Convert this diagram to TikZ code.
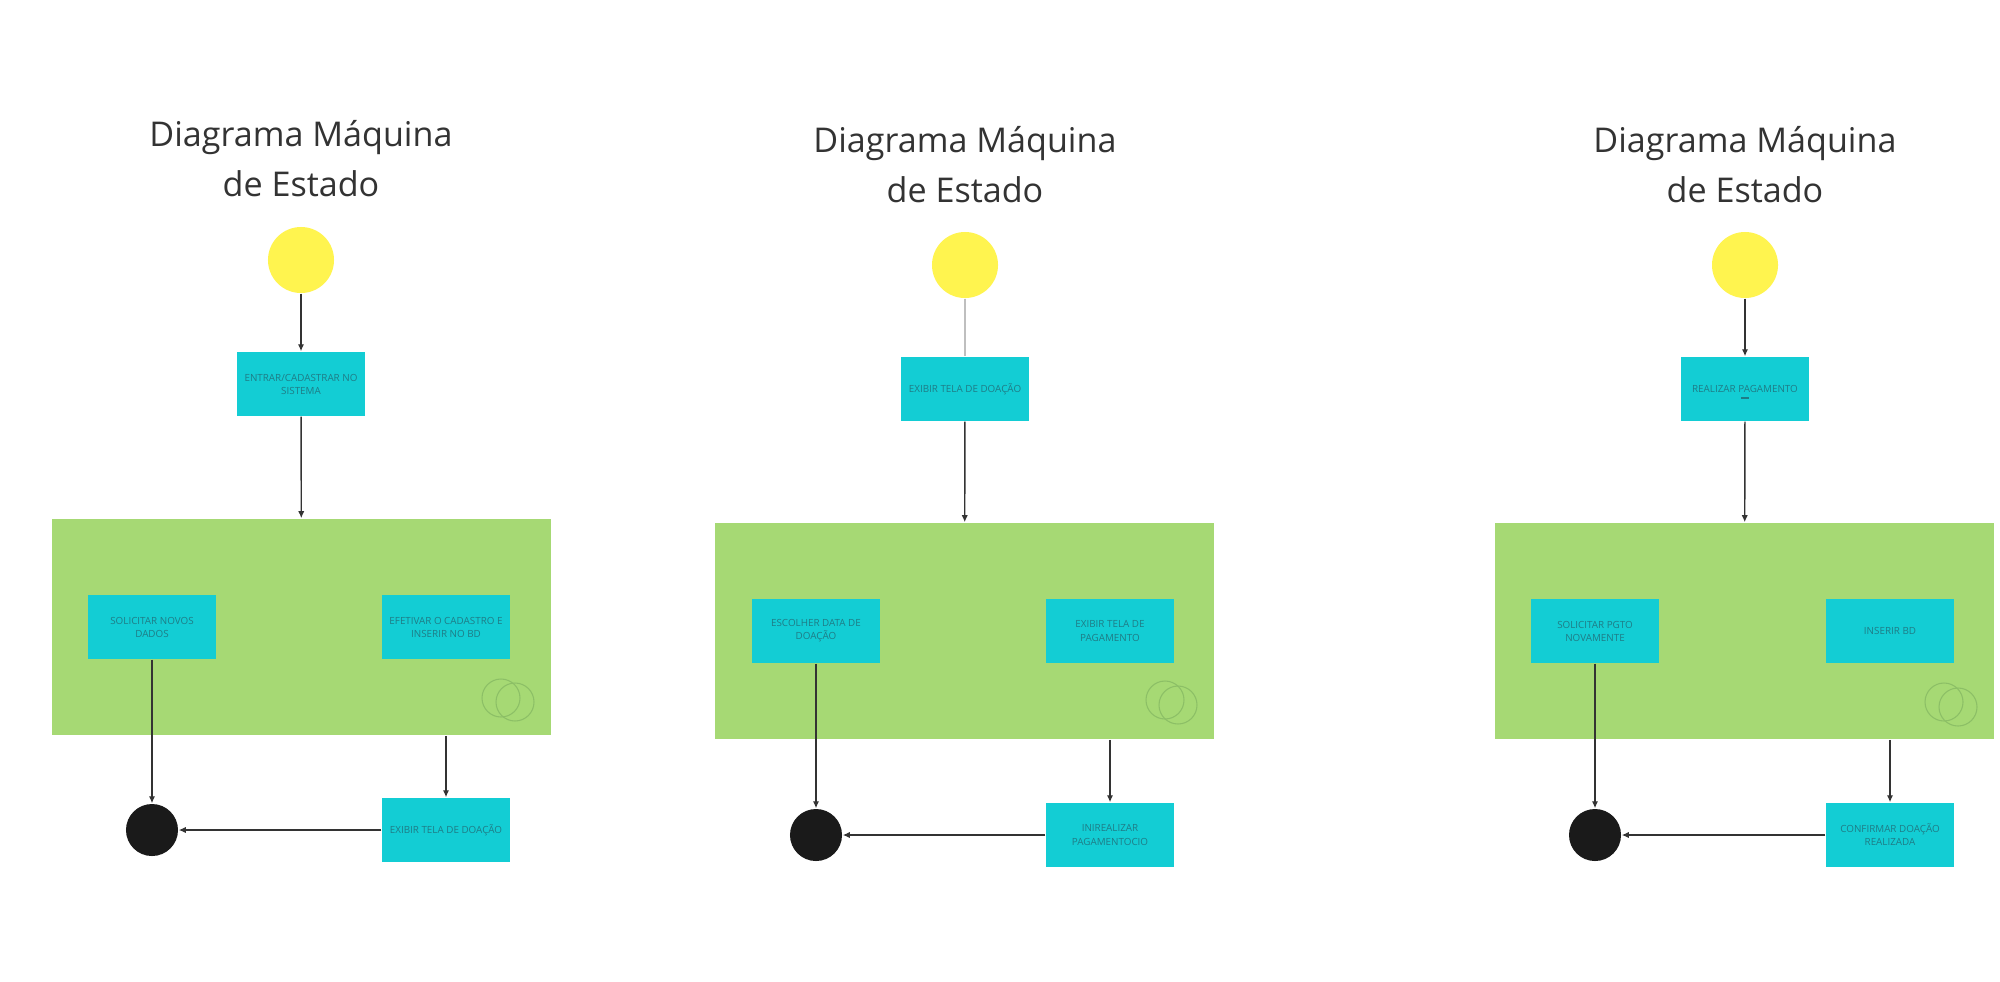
\documentclass[tikz,border=0pt]{standalone}
\usepackage{fontspec}
\setmainfont{Open Sans}
\usetikzlibrary{arrows.meta}

\definecolor{startyellow}{HTML}{FFF44F}
\definecolor{statecyan}{HTML}{13CDD4}
\definecolor{compgreen}{HTML}{A6D974}
\definecolor{venngreen}{HTML}{8CBF66}
\definecolor{boxtext}{HTML}{1F7C86}
\definecolor{titlegray}{HTML}{333333}
\definecolor{endblack}{HTML}{1A1A1A}

\tikzset{
  titletext/.style={font=\fontsize{9.7}{11}\selectfont, text=titlegray, anchor=base, inner sep=0pt},
  startstate/.style={circle, fill=startyellow, minimum size=0.66cm, inner sep=0pt},
  endstate/.style={circle, fill=endblack, minimum size=0.52cm, inner sep=0pt},
  statebox/.style={rectangle, fill=statecyan, minimum width=1.28cm, minimum height=0.64cm,
    inner sep=0pt, align=center, text=boxtext, font=\fontsize{2.8}{3.7}\selectfont},
  compstate/.style={rectangle, fill=compgreen, minimum width=4.99cm, minimum height=2.16cm, inner sep=0pt},
  venn/.style={draw=venngreen, line width=0.3pt},
  trans/.style={draw=titlegray, line width=0.4pt, -{Latex[length=2pt,width=1.8pt]}}
}

\begin{document}
\begin{tikzpicture}[x=0.01cm, y=-0.01cm]
  \useasboundingbox[fill=white] (0,0) rectangle (2000,981);

  % ---------- first diagram ----------
  \node[titletext] (titleA1) at (301,146) {Diagrama Máquina};
  \node[titletext] (titleB1) at (301,196) {de Estado};

  \node[startstate] (start1) at (301,260) {};
  \node[statebox] (enter1) at (301,384) {ENTRAR/CADASTRAR NO\\SISTEMA};

  % composite state
  \node[compstate] (comp1) at (301.5,627) {};
  \node[statebox] (ask1) at (152,627) {SOLICITAR NOVOS\\DADOS};
  \node[statebox] (save1) at (446,627) {EFETIVAR O CADASTRO E\\INSERIR NO BD};
  \draw[venn] (501,698) circle (19);
  \draw[venn] (515,702) circle (19);

  \node[endstate] (end1) at (152,830) {};
  \node[statebox] (show1) at (446,830) {EXIBIR TELA DE DOAÇÃO};

  \draw[trans] (start1) -- (enter1);
  \draw[trans] (enter1) -- (comp1);
  \draw[trans] (ask1.south) -- (end1.north);
  \draw[trans] (save1 |- comp1.south) -- (show1.north);
  \draw[trans] (show1.west) -- (end1.east);

  % ---------- second diagram ----------
  \node[titletext] (titleA2) at (965,152) {Diagrama Máquina};
  \node[titletext] (titleB2) at (965,202) {de Estado};

  \node[startstate] (start2) at (965,265) {};
  \node[statebox] (screen2) at (965,389) {EXIBIR TELA DE DOAÇÃO};

  % composite state
  \node[compstate] (comp2) at (964.5,631) {};
  \node[statebox] (date2) at (816,631) {ESCOLHER DATA DE\\DOAÇÃO};
  \node[statebox] (pay2) at (1110,631) {EXIBIR TELA DE\\PAGAMENTO};
  \draw[venn] (1165,700) circle (19);
  \draw[venn] (1178,705) circle (19);

  \node[endstate] (end2) at (816,835) {};
  \node[statebox] (realize2) at (1110,835) {INIREALIZAR\\PAGAMENTOCIO};

  \draw[black!25, line width=0.4pt] (start2) -- (screen2);
  \draw[trans] (screen2) -- (comp2);
  \draw[trans] (date2.south) -- (end2.north);
  \draw[trans] (pay2 |- comp2.south) -- (realize2.north);
  \draw[trans] (realize2.west) -- (end2.east);

  % ---------- third diagram ----------
  \node[titletext] (titleA3) at (1745,152) {Diagrama Máquina};
  \node[titletext] (titleB3) at (1745,202) {de Estado};

  \node[startstate] (start3) at (1745,265) {};
  \node[statebox] (pay3) at (1745,389) {REALIZAR PAGAMENTO};
  \draw[boxtext, line width=0.3pt] ([shift={(-4,9)}]pay3.center) -- ++(8,0);

  % composite state
  \node[compstate] (comp3) at (1744.5,631) {};
  \node[statebox] (again3) at (1595,631) {SOLICITAR PGTO\\NOVAMENTE};
  \node[statebox] (insert3) at (1890,631) {INSERIR BD};
  \draw[venn] (1944,702) circle (19);
  \draw[venn] (1958,707) circle (19);

  \node[endstate] (end3) at (1595,835) {};
  \node[statebox] (confirm3) at (1890,835) {CONFIRMAR DOAÇÃO\\REALIZADA};

  \draw[trans] (start3) -- (pay3);
  \draw[trans] (pay3) -- (comp3);
  \draw[trans] (again3.south) -- (end3.north);
  \draw[trans] (insert3 |- comp3.south) -- (confirm3.north);
  \draw[trans] (confirm3.west) -- (end3.east);
\end{tikzpicture}
\end{document}
